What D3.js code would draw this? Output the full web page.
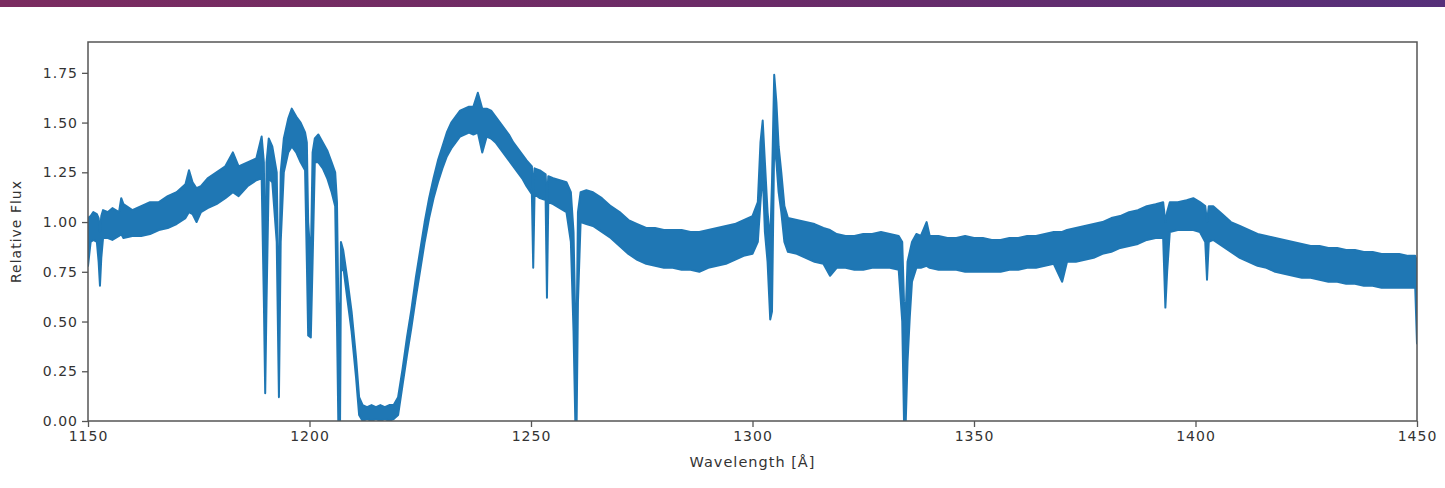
<!DOCTYPE html>
<html lang="en">
<head>
<meta charset="utf-8">
<style type="text/css">
    body { margin: 0; background: #fff; }
    text { font-family: "DejaVu Sans", sans-serif; fill: #333; }
    .frame { fill: none; stroke: #555; stroke-width: 1.5px; }
    .spec { fill: #1f77b4; stroke: #1f77b4; stroke-width: 2px; stroke-linejoin: round; }
</style>
</head>
<body>
<svg width="1445" height="488"></svg>
<script src="https://cdn.jsdelivr.net/npm/d3@7"></script>
<script type="text/javascript">
// spectrum: wavelength (A), lower and upper edge of the noisy trace
var wave = [1150.0, 1150.6, 1151.2, 1152.0, 1152.4, 1152.7, 1153.0, 1153.4, 1154.5, 1155.5, 1157.0, 1157.5, 1158.0,
    1160, 1162, 1164, 1166, 1168, 1170, 1172, 1172.8, 1173.6, 1174.5, 1175.5, 1177, 1179, 1181, 1182.7, 1184, 1186, 1188,
    1189.2, 1189.7, 1190.0, 1190.3, 1190.8, 1191.6, 1192.6, 1193.1, 1193.5, 1194.2, 1195.2, 1196.0, 1197.0, 1198.0, 1199.0,
    1199.4, 1199.7, 1200.3, 1200.7, 1201.2, 1202.0, 1203.0, 1204.0, 1205.0, 1205.8, 1206.2, 1206.5, 1206.9, 1207.1, 1207.6,
    1208.5, 1209.5, 1210.5, 1211.2, 1212, 1213, 1214, 1215, 1216, 1217, 1218, 1219, 1220, 1221, 1222, 1223, 1224, 1225,
    1226, 1227, 1228, 1229, 1230, 1231, 1232, 1233, 1234, 1235, 1236, 1237, 1238, 1239, 1240, 1241, 1242, 1243, 1244,
    1245, 1246, 1247, 1248, 1249, 1250.2, 1250.5, 1250.8, 1252, 1253.3, 1253.6, 1253.9, 1255, 1256.5, 1258, 1259, 1259.6,
    1260.0, 1260.3, 1260.6, 1261.2, 1262.5, 1264, 1266, 1268, 1270, 1272, 1274, 1276, 1278, 1280, 1282, 1284, 1286, 1288,
    1290, 1292, 1294, 1296, 1298, 1300, 1301.2, 1301.8, 1302.3, 1302.8, 1303.4, 1304.0, 1304.4, 1304.9, 1305.4, 1305.9,
    1306.5, 1307.2, 1308, 1310, 1312, 1314, 1316, 1317.5, 1319, 1321, 1323, 1325, 1327, 1329, 1331, 1333, 1333.8, 1334.2,
    1334.6, 1335.0, 1335.5, 1336.0, 1337, 1338, 1339.3, 1340, 1342, 1344, 1346, 1348, 1350, 1352, 1354, 1356, 1358, 1360,
    1362, 1364, 1366, 1368, 1369.9, 1371, 1373, 1375, 1377, 1379, 1381, 1383, 1385, 1387, 1389, 1391, 1392.7, 1393.2,
    1393.6, 1394.2, 1396, 1398, 1399.5, 1401, 1402.2, 1402.6, 1403.0, 1404, 1406, 1408, 1410, 1412, 1414, 1416, 1418,
    1420, 1422, 1424, 1426, 1428, 1430, 1432, 1434, 1436, 1438, 1440, 1442, 1444, 1446, 1448, 1449.6, 1450];

var fluxLo = [0.78, 0.90, 0.91, 0.90, 0.80, 0.68, 0.82, 0.92, 0.92, 0.91, 0.93, 0.94, 0.92,
    0.93, 0.93, 0.94, 0.96, 0.97, 0.99, 1.02, 1.05, 1.04, 1.00, 1.05, 1.07, 1.09, 1.12, 1.15, 1.13, 1.18, 1.21,
    1.22, 0.60, 0.14, 0.60, 1.22, 1.20, 0.90, 0.12, 0.90, 1.25, 1.35, 1.38, 1.35, 1.30, 1.26,
    0.80, 0.43, 0.42, 0.80, 1.30, 1.30, 1.27, 1.22, 1.15, 1.08, 0.50, 0.00, 0.00, 0.75, 0.78,
    0.62, 0.45, 0.22, 0.03, 0.00, 0.01, 0.00, 0.01, 0.00, 0.01, 0.00, 0.01, 0.03, 0.18, 0.33, 0.47, 0.62, 0.76,
    0.90, 1.02, 1.12, 1.20, 1.27, 1.33, 1.37, 1.40, 1.43, 1.44, 1.45, 1.44, 1.45, 1.35, 1.43, 1.42, 1.40, 1.37, 1.34,
    1.31, 1.28, 1.25, 1.22, 1.18, 1.14, 0.77, 1.14, 1.12, 1.11, 0.62, 1.10, 1.09, 1.07, 1.05, 0.90, 0.45,
    0.00, 0.00, 0.60, 1.00, 0.99, 0.98, 0.95, 0.92, 0.88, 0.84, 0.81, 0.79, 0.78, 0.77, 0.77, 0.76, 0.76, 0.75,
    0.77, 0.78, 0.79, 0.81, 0.83, 0.84, 0.90, 1.10, 1.25, 0.95, 0.80, 0.51, 0.55, 1.40, 1.30, 1.15,
    1.05, 0.90, 0.85, 0.84, 0.82, 0.80, 0.79, 0.73, 0.77, 0.77, 0.76, 0.76, 0.77, 0.77, 0.77, 0.76, 0.50, 0.00,
    0.00, 0.30, 0.52, 0.70, 0.77, 0.77, 0.78, 0.77, 0.76, 0.76, 0.76, 0.75, 0.75, 0.75, 0.75, 0.75, 0.76, 0.76,
    0.77, 0.77, 0.78, 0.79, 0.70, 0.80, 0.80, 0.81, 0.82, 0.84, 0.85, 0.87, 0.88, 0.89, 0.91, 0.92, 0.92, 0.57,
    0.75, 0.95, 0.96, 0.96, 0.96, 0.95, 0.90, 0.71, 0.90, 0.91, 0.88, 0.85, 0.82, 0.80, 0.78, 0.77, 0.75,
    0.74, 0.73, 0.72, 0.72, 0.71, 0.70, 0.70, 0.69, 0.69, 0.68, 0.68, 0.67, 0.67, 0.67, 0.67, 0.67, 0.39];

var fluxHi = [1.02, 1.03, 1.05, 1.04, 1.02, 0.95, 1.03, 1.06, 1.05, 1.07, 1.05, 1.12, 1.09,
    1.06, 1.08, 1.10, 1.10, 1.13, 1.15, 1.19, 1.26, 1.20, 1.17, 1.18, 1.22, 1.25, 1.28, 1.35, 1.28, 1.30, 1.32,
    1.43, 1.30, 0.60, 1.30, 1.42, 1.38, 1.25, 0.50, 1.25, 1.42, 1.52, 1.57, 1.53, 1.50, 1.45,
    1.40, 1.00, 0.80, 1.35, 1.42, 1.44, 1.40, 1.36, 1.30, 1.25, 1.10, 0.60, 0.40, 0.90, 0.86,
    0.72, 0.55, 0.32, 0.12, 0.08, 0.07, 0.08, 0.07, 0.08, 0.07, 0.08, 0.08, 0.12, 0.26, 0.42, 0.56, 0.72, 0.86,
    1.00, 1.12, 1.22, 1.31, 1.38, 1.45, 1.50, 1.53, 1.56, 1.57, 1.58, 1.58, 1.65, 1.57, 1.57, 1.56, 1.53, 1.50, 1.47,
    1.44, 1.40, 1.37, 1.34, 1.31, 1.28, 1.15, 1.27, 1.26, 1.24, 1.10, 1.23, 1.22, 1.21, 1.20, 1.15, 0.95,
    0.50, 0.45, 1.05, 1.15, 1.16, 1.15, 1.12, 1.08, 1.05, 1.01, 0.99, 0.97, 0.97, 0.96, 0.96, 0.96, 0.95, 0.95,
    0.96, 0.97, 0.98, 0.99, 1.01, 1.03, 1.10, 1.40, 1.51, 1.30, 1.05, 0.90, 1.20, 1.74, 1.60, 1.38,
    1.25, 1.08, 1.02, 1.01, 1.00, 0.99, 0.97, 0.96, 0.94, 0.93, 0.93, 0.94, 0.94, 0.95, 0.94, 0.93, 0.90, 0.60,
    0.55, 0.80, 0.85, 0.90, 0.94, 0.93, 1.00, 0.93, 0.93, 0.92, 0.92, 0.93, 0.92, 0.92, 0.91, 0.91, 0.92, 0.92,
    0.93, 0.93, 0.94, 0.95, 0.95, 0.96, 0.97, 0.98, 0.99, 1.00, 1.02, 1.03, 1.05, 1.06, 1.08, 1.09, 1.10, 1.00,
    1.05, 1.10, 1.10, 1.11, 1.12, 1.10, 1.08, 1.00, 1.08, 1.08, 1.04, 1.00, 0.98, 0.96, 0.94, 0.93, 0.92,
    0.91, 0.90, 0.89, 0.88, 0.88, 0.87, 0.87, 0.86, 0.86, 0.85, 0.85, 0.84, 0.84, 0.84, 0.83, 0.83, 0.80];

var xTicks = [1150, 1200, 1250, 1300, 1350, 1400, 1450];
var yTicks = [0.00, 0.25, 0.50, 0.75, 1.00, 1.25, 1.50, 1.75];

var svg = d3.select("svg"),
    margin = {top: 42, right: 28, bottom: 67, left: 88},
    width = +svg.attr("width") - margin.left - margin.right,
    height = +svg.attr("height") - margin.top - margin.bottom;

// purple banner strip along the top edge
var grad = svg.append("defs").append("linearGradient").attr("id", "banner");
grad.append("stop").attr("offset", "0%").attr("stop-color", "#7b2c60");
grad.append("stop").attr("offset", "55%").attr("stop-color", "#6a2b68");
grad.append("stop").attr("offset", "100%").attr("stop-color", "#56307a");
svg.append("rect").attr("width", 1445).attr("height", 7).attr("fill", "url(#banner)");

svg.select("defs").append("clipPath").attr("id", "plotclip")
    .append("rect").attr("width", width).attr("height", height);

var x = d3.scaleLinear().domain([1150, 1450]).range([0, width]);
var y = d3.scaleLinear().domain([0, 1.905]).range([height, 0]);

var g = svg.append("g").attr("transform", "translate(" + margin.left + "," + margin.top + ")");

var data = wave.map(function (w, i) {
    return {w: w, lo: fluxLo[i], hi: fluxHi[i]};
});

var area = d3.area()
    .x(function (d) { return x(d.w); })
    .y0(function (d) { return y(d.lo); })
    .y1(function (d) { return y(d.hi); });

g.append("path")
    .datum(data)
    .attr("class", "spec")
    .attr("clip-path", "url(#plotclip)")
    .attr("d", area);

var xAxis = g.append("g")
    .attr("transform", "translate(0," + height + ")")
    .call(d3.axisBottom(x).tickValues(xTicks).tickFormat(d3.format("d")).tickSize(6).tickPadding(4));

var yAxis = g.append("g")
    .call(d3.axisLeft(y).tickValues(yTicks).tickFormat(d3.format(".2f")).tickSize(6).tickPadding(4));

[xAxis, yAxis].forEach(function (a) {
    a.select(".domain").remove();
    a.selectAll("line").attr("stroke", "#555").attr("stroke-width", 1.3);
    a.selectAll("text").attr("font-size", 14).attr("fill", "#333")
        .style("letter-spacing", "1px").attr("font-family", "DejaVu Sans");
});

g.append("rect").attr("class", "frame").attr("width", width).attr("height", height);

g.append("text")
    .attr("x", width / 2)
    .attr("y", height + 46)
    .attr("text-anchor", "middle")
    .attr("font-size", 14.5)
    .style("letter-spacing", "1px")
    .text("Wavelength [\u00c5]");

g.append("text")
    .attr("transform", "translate(" + (-67) + "," + (height / 2) + ") rotate(-90)")
    .attr("text-anchor", "middle")
    .attr("font-size", 14)
    .style("letter-spacing", "1px")
    .text("Relative Flux");
</script>
</body>
</html>
